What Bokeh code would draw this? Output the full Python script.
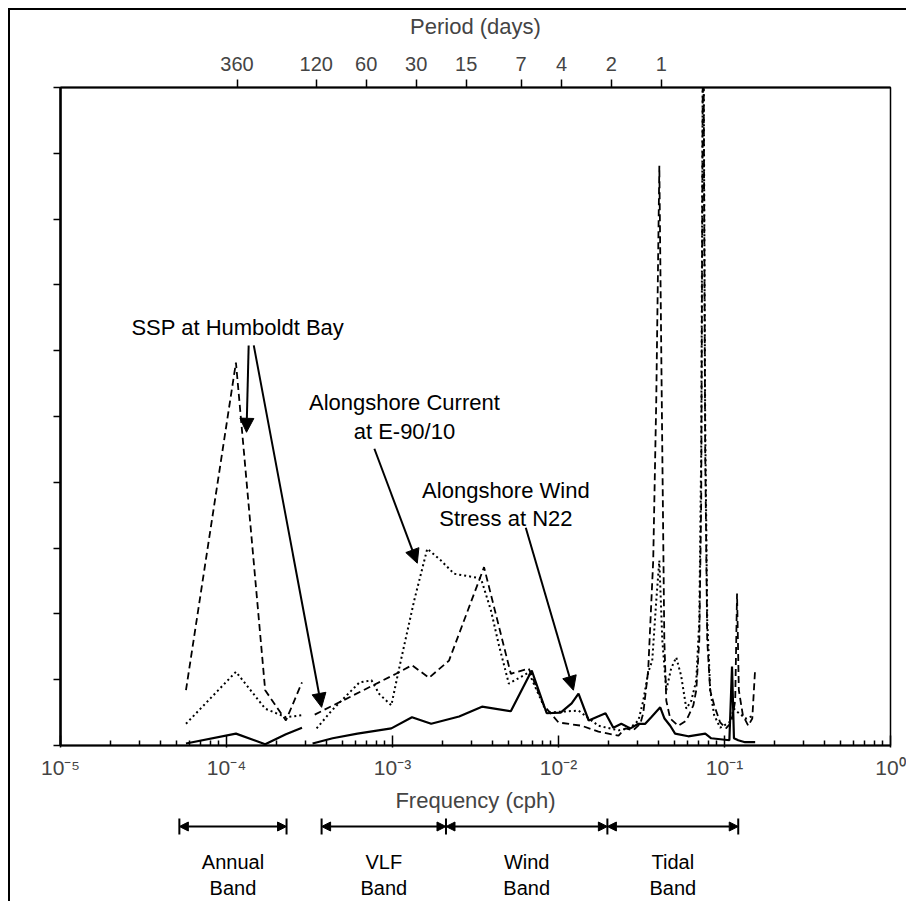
import math
from bokeh.plotting import figure
from bokeh.models import (LogAxis, FixedTicker, CustomJSTickFormatter, Range1d,
                          Arrow, NormalHead, ColumnDataSource)
from bokeh.layouts import column
from bokeh.core.properties import value
from bokeh.embed import file_html
from bokeh.resources import INLINE

NAN = float("nan")
FONT = "Liberation Sans"

# ---------------- data (frequency in cph, spectral energy in axis units 0..10) --------------
low_freq = [5.7e-5, 1.14e-4, 1.71e-4, 2.28e-4, 2.85e-4]

# Alongshore wind stress at N22 (solid)
wind_low = [0.03, 0.18, 0.02, 0.17, 0.27]
wind_freq = [3.30e-4, 4.36e-4, 6.15e-4, 9.84e-4, 1.31e-3, 1.71e-3, 2.52e-3, 3.46e-3,
             5.16e-3, 6.90e-3, 8.49e-3, 1.03e-2, 1.20e-2, 1.32e-2, 1.52e-2, 1.92e-2,
             2.14e-2, 2.39e-2, 2.71e-2, 3.03e-2, 3.33e-2, 3.62e-2, 4.10e-2, 4.35e-2,
             4.71e-2, 5.04e-2, 6.05e-2, 7.66e-2, 8.32e-2, 0.107, 0.111, 0.114, 0.121,
             0.133, 0.153]
wind_val = [0.03, 0.11, 0.18, 0.26, 0.43, 0.33, 0.44, 0.59,
            0.52, 1.14, 0.49, 0.50, 0.64, 0.79, 0.38, 0.49,
            0.27, 0.33, 0.26, 0.33, 0.33, 0.43, 0.58, 0.41,
            0.30, 0.18, 0.14, 0.18, 0.11, 0.08, 1.20, 0.11, 0.08,
            0.05, 0.05]

# SSP at Humboldt Bay (dashed)
ssp_low = [0.84, 5.82, 0.84, 0.38, 0.96]
ssp_freq = [3.40e-4, 5.0e-4, 7.57e-4, 1.05e-3, 1.31e-3, 1.66e-3, 2.19e-3, 3.56e-3,
            5.16e-3, 6.62e-3, 8.15e-3, 1.00e-2, 1.38e-2, 1.74e-2, 2.30e-2,
            2.53e-2, 2.82e-2, 3.11e-2, 3.24e-2, 3.47e-2, 3.72e-2, 3.88e-2, 4.05e-2,
            4.22e-2, 4.34e-2, 4.46e-2, 4.71e-2, 5.26e-2, 5.89e-2, 6.49e-2, 6.76e-2,
            7.05e-2, 7.24e-2, 7.44e-2, 7.65e-2, 7.87e-2, 8.20e-2, 8.67e-2, 9.42e-2,
            0.102, 0.110, 0.116, 0.119, 0.122, 0.129, 0.139, 0.147, 0.153]
ssp_val = [0.47, 0.68, 0.91, 1.09, 1.22, 1.03, 1.29, 2.71,
           1.09, 1.17, 0.61, 0.35, 0.30, 0.21, 0.15,
           0.26, 0.23, 0.33, 0.49, 1.14, 2.81, 5.24, 8.81,
           4.48, 1.60, 0.68, 0.41, 0.30, 0.38, 0.61, 0.84,
           1.60, 3.72, 12.0, 4.48, 1.60, 0.84, 0.61, 0.35,
           0.26, 0.35, 0.68, 2.31, 0.84, 0.46, 0.30, 0.41, 1.17]

# Alongshore current at E-90/10 (dotted)
cur_low = [0.33, 1.12, 0.56, 0.43, 0.46]
cur_freq = [3.49e-4, 4.30e-4, 6.33e-4, 7.47e-4, 8.34e-4, 9.84e-4, 1.10e-3, 1.35e-3,
            1.62e-3, 1.96e-3, 2.35e-3, 3.41e-3, 3.92e-3, 4.38e-3, 5.02e-3, 6.62e-3,
            8.49e-3, 1.32e-2, 1.74e-2, 2.30e-2,
            2.71e-2, 3.03e-2, 3.24e-2, 3.47e-2, 3.67e-2, 3.88e-2, 4.05e-2, 4.22e-2,
            4.46e-2, 4.77e-2, 5.12e-2, 5.48e-2, 5.89e-2, 6.31e-2, 6.76e-2, 7.05e-2,
            7.24e-2, 7.44e-2, 7.65e-2, 7.87e-2, 8.20e-2, 8.67e-2, 9.42e-2, 0.107,
            0.114, 0.122, 0.135, 0.151]
cur_val = [0.26, 0.53, 0.96, 0.99, 0.78, 0.61, 1.19, 2.20,
           2.99, 2.81, 2.61, 2.54, 2.05, 1.52, 0.94, 1.11,
           0.50, 0.53, 0.30, 0.23,
           0.27, 0.38, 0.68, 1.11, 1.29, 2.20, 2.81, 1.60,
           0.84, 1.17, 1.34, 1.06, 0.56, 0.68, 0.99, 1.90,
           4.48, 12.0, 4.94, 1.90, 0.84, 0.46, 0.27, 0.35,
           0.56, 0.49, 0.41, 0.46]

# axes
decades = [1e-5, 1e-4, 1e-3, 1e-2, 1e-1, 1.0]
period_days = [360, 120, 60, 30, 15, 7, 4, 2, 1]
y_ticks = list(range(0, 11))

# frequency bands (cph)
band_names = ["Annual\nBand", "VLF\nBand", "Wind\nBand", "Tidal\nBand"]
band_start = [5.2e-5, 3.74e-4, 2.1e-3, 1.97e-2]
band_end = [2.3e-4, 2.1e-3, 1.97e-2, 0.121]

# annotation texts and their anchors (frequency, energy)
note_text = ["SSP at Humboldt Bay", "Alongshore Current\nat E-90/10", "Alongshore Wind\nStress at N22"]
note_x = [1.17e-4, 1.18e-3, 4.82e-3]
note_y = [6.55, 5.40, 4.07]
# arrows: (x_start, y_start, x_end, y_end)
arrow_x0 = [1.36e-4, 1.46e-4, 7.78e-4, 6.35e-3]
arrow_y0 = [6.08, 6.08, 4.51, 3.31]
arrow_x1 = [1.32e-4, 3.74e-4, 1.41e-3, 1.23e-2]
arrow_y1 = [4.76, 0.58, 2.77, 0.84]


def joined(f_low, v_low, f_hi, v_hi):
    return list(f_low) + [NAN] + list(f_hi), list(v_low) + [NAN] + list(v_hi)


# ---------------- main figure ----------------
p = figure(width=896, height=805, x_axis_type="log", x_range=Range1d(1e-5, 1.0),
           y_range=Range1d(0, 10), output_backend="svg", toolbar_location=None,
           min_border_left=50, min_border_right=16, min_border_top=77, min_border_bottom=70)
p.grid.visible = False
p.outline_line_color = "black"
p.outline_line_width = 1.5
p.background_fill_color = "white"
p.border_fill_color = "white"

wx, wy = joined(low_freq, wind_low, wind_freq, wind_val)
sx, sy = joined(low_freq, ssp_low, ssp_freq, ssp_val)
cx, cy = joined(low_freq, cur_low, cur_freq, cur_val)
p.line(wx, wy, line_color="black", line_width=2.2)
p.line(sx, sy, line_color="black", line_width=1.8, line_dash="7 4")
p.line(cx, cy, line_color="black", line_width=2.0, line_dash="2 3")

# bottom axis
bx = p.below[0]
bx.ticker = FixedTicker(ticks=decades,
                        minor_ticks=[m * 10.0 ** e for e in range(-5, 0) for m in range(2, 10)])
bx.formatter = CustomJSTickFormatter(code="""
const e = Math.round(Math.log10(tick));
const m = {"-":"⁻","0":"⁰","1":"¹","2":"²","3":"³","4":"⁴","5":"⁵","6":"⁶","7":"⁷","8":"⁸","9":"⁹"};
return "10" + String(e).split("").map(c => m[c]).join("");
""")
bx.axis_label = "Frequency (cph)"
bx.axis_label_text_font = FONT
bx.axis_label_text_font_size = "22px"
bx.axis_label_text_font_style = "normal"
bx.axis_label_standoff = 6
bx.major_label_text_font = FONT
bx.major_label_text_font_size = "21px"
bx.major_label_standoff = 8
bx.major_tick_in = 10
bx.major_tick_out = 2
bx.minor_tick_in = 5
bx.minor_tick_out = 0
bx.axis_line_width = 2
bx.major_tick_line_width = 1.5
bx.minor_tick_line_width = 1.5

# top axis (period)
top = LogAxis(ticker=FixedTicker(ticks=[1.0 / (24.0 * d) for d in period_days], minor_ticks=[]),
              formatter=CustomJSTickFormatter(code="return String(Math.round(1/(24*tick)));"),
              axis_label="Period (days)")
top.axis_label_text_font = FONT
top.axis_label_text_font_size = "22px"
top.axis_label_text_font_style = "normal"
top.axis_label_standoff = 15
top.major_label_text_font = FONT
top.major_label_text_font_size = "20px"
top.major_label_standoff = 9
top.major_tick_in = 0
top.major_tick_out = 8
top.major_tick_line_width = 1.5
top.axis_line_width = 2
p.add_layout(top, "above")

# left axis (ticks only, no numbers)
ly = p.yaxis[0]
ly.ticker = FixedTicker(ticks=y_ticks)
ly.formatter = CustomJSTickFormatter(code="return '';")
ly.major_tick_in = 0
ly.major_tick_out = 7
ly.major_tick_line_width = 1.5
ly.minor_tick_line_color = None
ly.axis_line_width = 2.5

# annotations
notes = ColumnDataSource(dict(x=note_x, y=note_y, t=note_text))
p.text(x="x", y="y", text="t", source=notes, text_font=value(FONT), text_font_size="22px",
       text_align="center", text_baseline="top", text_color="black", text_line_height=1.15)
for x0, y0, x1, y1 in zip(arrow_x0, arrow_y0, arrow_x1, arrow_y1):
    p.add_layout(Arrow(x_start=x0, y_start=y0, x_end=x1, y_end=y1, line_width=2,
                       line_color="black",
                       end=NormalHead(size=14, fill_color="black", line_color="black")))

# ---------------- band figure ----------------
p2 = figure(width=896, height=86, x_axis_type="log", x_range=p.x_range, y_range=Range1d(0, 1),
            x_axis_location=None, y_axis_location=None, output_backend="svg",
            toolbar_location=None, min_border_left=50, min_border_right=16,
            min_border_top=0, min_border_bottom=0)
p2.grid.visible = False
p2.outline_line_color = None
edges = sorted(set(band_start + band_end))
p2.segment(x0=edges, y0=[0.78] * len(edges), x1=edges, y1=[0.965] * len(edges),
           line_color="black", line_width=2)
for a, b in zip(band_start, band_end):
    p2.add_layout(Arrow(x_start=a, y_start=0.872, x_end=b, y_end=0.872, line_width=2,
                        line_color="black",
                        start=NormalHead(size=9, fill_color="black", line_color="black"),
                        end=NormalHead(size=9, fill_color="black", line_color="black")))
mids = [math.sqrt(a * b) for a, b in zip(band_start, band_end)]
bsrc = ColumnDataSource(dict(x=mids, y=[0.59] * len(mids), t=band_names))
p2.text(x="x", y="y", text="t", source=bsrc, text_font=value(FONT), text_font_size="20px",
        text_align="center", text_baseline="top", text_color="black", text_line_height=1.2)

layout = column(p, p2, spacing=0,
                styles={"border-top": "2px solid black", "border-left": "2px solid black",
                        "margin-left": "8px", "margin-top": "8px"})

open("out.html", "w").write(file_html(layout, INLINE))
